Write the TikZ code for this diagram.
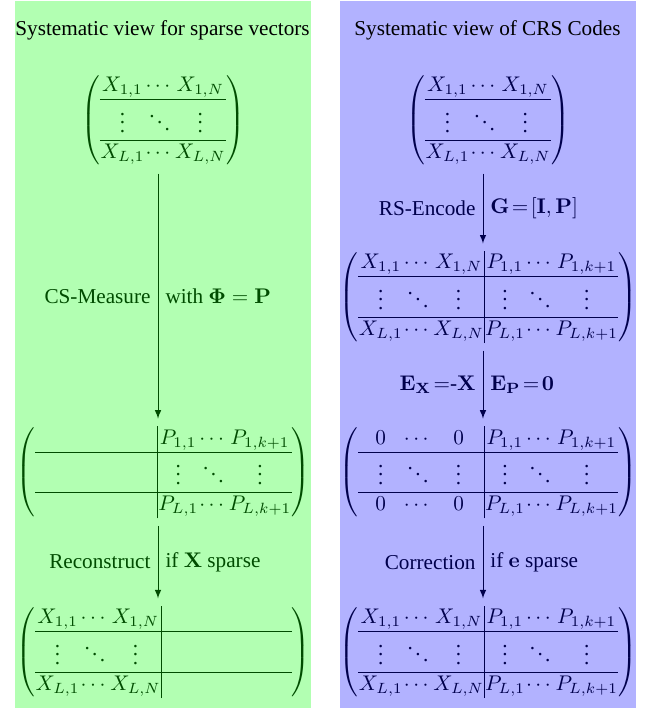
\documentclass[tikz,border=0pt]{standalone}
\usepackage[no-math]{fontspec}
\setmainfont{Liberation Serif}
\usepackage{amsmath}
\usetikzlibrary{arrows}
\setlength{\arraycolsep}{0.3pt}

% radky matic
\newcommand{\xra}{X_{1,1} & \cdots & X_{1,N}}
\newcommand{\xrb}{\vdots & \ddots & \vdots}
\newcommand{\xrc}{X_{L,1} & \cdots & X_{L,N}}
\newcommand{\pra}{P_{1,1} & \cdots & P_{1,k+1}}
\newcommand{\prb}{\vdots & \ddots & \vdots}
\newcommand{\prc}{P_{L,1} & \cdots & P_{L,k+1}}
\newcommand{\xre}{\hphantom{X_{L,1}} & \hphantom{\cdots} & \hphantom{X_{L,N}}}
\newcommand{\pre}{\hphantom{P_{L,1}} & \hphantom{\cdots} & \hphantom{P_{L,k+1}}}
\newcommand{\sirka}[2]{\setbox0\hbox{$#1$}\hbox to \wd0{\hss$#2$\hss}}
\newcommand{\zra}{\sirka{X_{L,1}}{0} & \cdots & \sirka{X_{L,N}}{0}}
% cela matice a jen X
\newcommand{\kodmat}[6]{\left(\begin{array}{ccc|ccc} #1 & #2 \\ \hline #3 & #4 \\ \hline #5 & #6 \end{array}\right)}
\newcommand{\xmat}{\left(\begin{array}{ccc} \xra \\ \hline \xrb \\ \hline \xrc \end{array}\right)}

\begin{document}
\begin{tikzpicture}[
  panel/.style={draw=gray!50},
  titul/.style={text=black},
  >=latex
]
  \useasboundingbox (0,0) rectangle (10.893,-11.739);

  % Levy panel (ridke vektory)
  \begin{scope}[shift={(0.249,0)}]
    \fill[panel, green!30] (0,-0.025) rectangle (4.891,-11.8);
    \node[titul] (tl) at (2.446,-0.497) {Systematic view for sparse vectors};
    \begin{scope}[green!30!black]
      \coordinate (osal) at (2.371,0);
      \node (l1) at (2.454,-1.99) {$\xmat$};
      \node (l2) at (2.46,-7.83) {$\kodmat{\xre}{\pra}{\xre}{\prb}{\xre}{\prc}$};
      \node (l3) at (2.46,-10.81) {$\kodmat{\xra}{\pre}{\xrb}{\pre}{\xrc}{\pre}$};

      \draw[->] (osal |- l1.south) -- (osal |- l2.north)
        node[midway, left] {CS-Measure}
        node[midway, right] {with $\mathbf{\Phi}=\mathbf{P}$};
      \draw[->] (osal |- l2.south) -- (osal |- l3.north)
        node[midway, left] {Reconstruct}
        node[midway, right] {if $\mathbf{X}$ sparse};
    \end{scope}
  \end{scope}

  % Pravy panel (CRS kody)
  \begin{scope}[shift={(5.637,0)}]
    \fill[panel, blue!30] (0,-0.025) rectangle (4.891,-11.8);
    \node[titul] (tr) at (2.446,-0.497) {Systematic view of CRS Codes};
    \begin{scope}[blue!30!black]
      \coordinate (osar) at (2.371,0);
      \node (r1) at (2.454,-1.99) {$\xmat$};
      \node (r2) at (2.46,-4.925) {$\kodmat{\xra}{\pra}{\xrb}{\prb}{\xrc}{\prc}$};
      \node (r3) at (2.46,-7.83) {$\kodmat{\zra}{\pra}{\xrb}{\prb}{\zra}{\prc}$};
      \node (r4) at (2.46,-10.81) {$\kodmat{\xra}{\pra}{\xrb}{\prb}{\xrc}{\prc}$};

      \draw[->] (osar |- r1.south) -- (osar |- r2.north)
        node[midway, left] {RS-Encode}
        node[midway, right] {$\mathbf{G}\!=\![\mathbf{I},\mathbf{P}]$};
      \draw[->] (osar |- r2.south) -- (osar |- r3.north)
        node[midway, left] {$\mathbf{E}_{\mathbf{X}}\!=$-$\mathbf{X}$}
        node[midway, right] {$\mathbf{E}_{\mathbf{P}}\!=\!\mathbf{0}$};
      \draw[->] (osar |- r3.south) -- (osar |- r4.north)
        node[midway, left] {Correction}
        node[midway, right] {if $\mathbf{e}$ sparse};
    \end{scope}
  \end{scope}
\end{tikzpicture}
\end{document}
